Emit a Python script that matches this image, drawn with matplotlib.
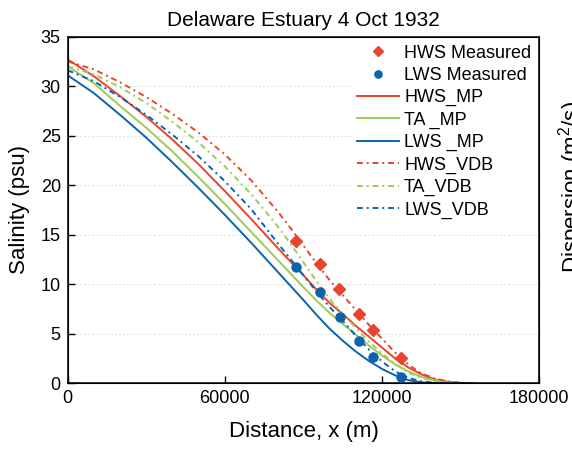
import numpy as np
import matplotlib
matplotlib.use('Agg')
import matplotlib.pyplot as plt

plt.rcParams['font.family'] = ['Liberation Sans', 'DejaVu Sans']
plt.rcParams['mathtext.default'] = 'regular'

# measured salinity (psu) vs distance (m)
x_meas = [87000, 96200, 103400, 111200, 116500, 127100]
hws_meas = [14.4, 12.0, 9.5, 7.0, 5.4, 2.6]
x_lws_meas = [87000, 96200, 103900, 111200, 116500, 127100]
lws_meas = [11.7, 9.2, 6.7, 4.3, 2.7, 0.6]

# model curves
x_model = [0, 10000, 20000, 30000, 40000, 50000, 60000, 70000, 80000, 85000,
           90000, 95000, 100000, 105000, 110000, 115000, 120000, 125000,
           130000, 135000, 140000, 145000, 150000, 155000]
hws_mp = [32.7, 31.0, 29.0, 26.9, 24.6, 22.1, 19.4, 16.6, 13.7, 12.3,
          10.9, 9.45, 8.1, 7.0, 5.8, 4.7, 3.6, 2.5, 1.6, 0.9, 0.4, 0.15, 0.03, 0.0]
ta_mp = [32.0, 30.3, 28.0, 25.8, 23.4, 20.8, 18.1, 15.3, 12.5, 11.1,
         9.7, 8.35, 7.1, 6.0, 4.9, 3.8, 2.8, 1.9, 1.2, 0.65, 0.3, 0.1, 0.02, 0.0]
lws_mp = [31.1, 29.3, 27.1, 24.8, 22.3, 19.7, 17.0, 14.2, 11.3, 9.85,
          8.4, 6.9, 5.5, 4.3, 3.2, 2.25, 1.45, 0.8, 0.32, 0.1, 0.02, 0.0, 0.0, 0.0]
hws_vdb = [32.5, 31.7, 30.4, 28.9, 27.2, 25.3, 23.1, 20.5, 17.4, 15.7,
           13.9, 12.1, 10.4, 8.9, 7.4, 5.9, 4.5, 3.1, 1.9, 1.0, 0.5, 0.2, 0.06, 0.0]
ta_vdb = [32.0, 31.2, 29.9, 28.3, 26.4, 24.3, 21.9, 19.1, 15.9, 14.1,
          12.2, 10.3, 8.5, 7.0, 5.6, 4.2, 3.0, 1.95, 1.1, 0.55, 0.25, 0.08, 0.0, 0.0]
lws_vdb = [31.6, 30.5, 28.9, 27.1, 25.1, 22.9, 20.4, 17.6, 14.2, 12.55,
           10.9, 9.25, 7.7, 6.3, 4.8, 3.4, 2.2, 1.2, 0.55, 0.2, 0.06, 0.0, 0.0, 0.0]

red = '#E8452C'
green = '#9CCB5A'
blue = '#0A64AD'
dashdot = (0, (3, 2, 1, 2))

fig = plt.figure(figsize=(5.72, 4.49), dpi=100)
ax = fig.add_axes([0.1184, 0.1463, 0.8244, 0.772])

lw = 1.4
ax.plot(x_model, hws_mp, color=red, lw=lw, label='HWS_MP')
ax.plot(x_model, ta_mp, color=green, lw=lw, label='TA _MP')
ax.plot(x_model, lws_mp, color=blue, lw=lw, label='LWS _MP')
ax.plot(x_model, hws_vdb, color=red, lw=lw, ls=dashdot, label='HWS_VDB')
ax.plot(x_model, ta_vdb, color=green, lw=lw, ls=dashdot, label='TA_VDB')
ax.plot(x_model, lws_vdb, color=blue, lw=lw, ls=dashdot, label='LWS_VDB')
ax.plot(x_meas, hws_meas, 'D', color=red, ms=6.5, ls='none', label='HWS Measured', zorder=5)
ax.plot(x_lws_meas, lws_meas, 'o', color=blue, ms=6.5, ls='none', label='LWS Measured', zorder=5)

ax.set_xlim(0, 180000)
ax.set_ylim(0, 35)
ax.set_xticks([0, 60000, 120000, 180000])
ax.set_yticks(range(0, 36, 5))
ax.tick_params(direction='in', length=5, width=1, labelsize=13, pad=5,
               top=False, right=False)
ax.yaxis.grid(True, ls=(0, (2, 2)), color='#DDDDDD', lw=0.7)
for s in ax.spines.values():
    s.set_linewidth(1.1)

ax.set_xlabel('Distance, x (m)', fontsize=16, labelpad=10)
ax.set_ylabel('Salinity (psu)', fontsize=16, labelpad=8)
ax.set_title('Delaware Estuary 4 Oct 1932', fontsize=15, pad=8)

h, l = ax.get_legend_handles_labels()
order = [6, 7, 0, 1, 2, 3, 4, 5]
leg = ax.legend([h[i] for i in order], [l[i] for i in order], loc='upper right',
                fontsize=13, frameon=True, fancybox=False, edgecolor='none',
                facecolor='white', framealpha=1, borderaxespad=0.15, borderpad=0.3,
                labelspacing=0.29, handlelength=2.3, handletextpad=0.3,
                numpoints=1, markerscale=0.8)

# secondary axis label (cut off at the right edge)
ax2 = ax.twinx()
ax2.set_yticks([])
ax2.set_ylabel('Dispersion (m$^2$/s)', fontsize=16)
ax2.yaxis.set_label_coords(1.035, 0.566)

fig.savefig('out.png', dpi=100)
